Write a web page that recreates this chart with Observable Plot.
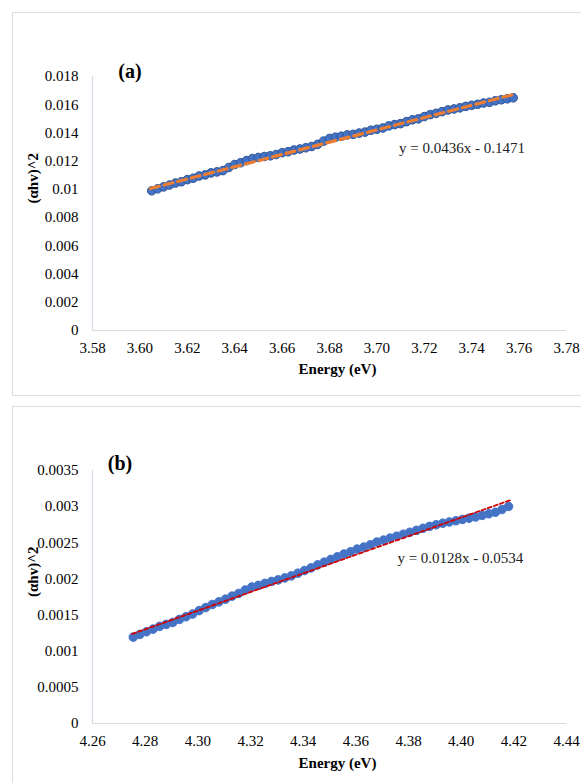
<!DOCTYPE html>
<html>
<head>
<meta charset="utf-8">
<script src="https://cdn.jsdelivr.net/npm/d3@7"></script>
<script src="https://cdn.jsdelivr.net/npm/@observablehq/plot@0.6"></script>
<style>
  html, body { margin: 0; padding: 0; background: #fff; overflow: hidden; }
  #wrap { position: relative; width: 581px; height: 783px; overflow: hidden; }
  .frame { position: absolute; border: 1px solid #d9dde4; box-sizing: border-box; }
  .chart { position: absolute; left: 0; }
  .chart svg { display: block; }
  .chart svg, .chart svg text { font-family: 'Liberation Serif', 'Times New Roman', serif !important; }
</style>
</head>
<body>
<div id="wrap">
  <div class="frame" style="left:12px;top:12px;width:580px;height:384px;"></div>
  <div class="frame" style="left:12px;top:406px;width:580px;height:400px;"></div>
  <div class="chart" id="a" style="top:0px;"></div>
  <div class="chart" id="b" style="top:395px;"></div>
</div>
<script>
// ---------- Panel (a) ----------
const energyA = [3.6050,3.6075,3.6100,3.6125,3.6150,3.6175,3.6200,3.6225,3.6250,3.6275,3.6300,3.6325,3.6350,3.6375,3.6400,3.6425,3.6450,3.6475,3.6500,3.6525,3.6550,3.6575,3.6600,3.6625,3.6650,3.6675,3.6700,3.6725,3.6750,3.6775,3.6800,3.6825,3.6850,3.6875,3.6900,3.6925,3.6950,3.6975,3.7000,3.7025,3.7050,3.7075,3.7100,3.7125,3.7150,3.7175,3.7200,3.7225,3.7250,3.7275,3.7300,3.7325,3.7350,3.7375,3.7400,3.7425,3.7450,3.7475,3.7500,3.7525,3.7550,3.7575];
const alphaA = [0.00990,0.01004,0.01018,0.01031,0.01045,0.01054,0.01069,0.01079,0.01095,0.01103,0.01117,0.01124,0.01133,0.01155,0.01176,0.01189,0.01204,0.01219,0.01226,0.01233,0.01238,0.01247,0.01260,0.01267,0.01279,0.01286,0.01295,0.01304,0.01319,0.01342,0.01361,0.01370,0.01377,0.01386,0.01390,0.01399,0.01406,0.01419,0.01426,0.01435,0.01450,0.01459,0.01466,0.01480,0.01493,0.01500,0.01516,0.01530,0.01539,0.01551,0.01563,0.01570,0.01578,0.01588,0.01596,0.01603,0.01612,0.01617,0.01628,0.01635,0.01642,0.01649];
const trendEnergyA = [3.6045, 3.7570];
const trendAlphaA = [0.01006, 0.01670];
const xTicksA = [3.58,3.60,3.62,3.64,3.66,3.68,3.70,3.72,3.74,3.76,3.78];
const yTicksA = [0,0.002,0.004,0.006,0.008,0.01,0.012,0.014,0.016,0.018];
const equationA = "y = 0.0436x - 0.1471";
const equationPosA = [3.7359, 0.0129];

// ---------- Panel (b) ----------
const energyB = [4.2755,4.2780,4.2805,4.2830,4.2855,4.2880,4.2905,4.2930,4.2955,4.2980,4.3005,4.3030,4.3055,4.3080,4.3105,4.3130,4.3155,4.3180,4.3205,4.3230,4.3255,4.3280,4.3305,4.3330,4.3355,4.3380,4.3405,4.3430,4.3455,4.3480,4.3505,4.3530,4.3555,4.3580,4.3605,4.3630,4.3655,4.3680,4.3705,4.3730,4.3755,4.3780,4.3805,4.3830,4.3855,4.3880,4.3905,4.3930,4.3955,4.3980,4.4005,4.4030,4.4055,4.4080,4.4105,4.4130,4.4155,4.4180];
const alphaB = [0.001195,0.001232,0.001269,0.001306,0.001344,0.001371,0.001398,0.001440,0.001477,0.001514,0.001562,0.001604,0.001646,0.001683,0.001720,0.001762,0.001799,0.001847,0.001889,0.001911,0.001938,0.001965,0.001987,0.002014,0.002042,0.002079,0.002116,0.002153,0.002195,0.002232,0.002270,0.002307,0.002344,0.002376,0.002413,0.002440,0.002472,0.002510,0.002537,0.002564,0.002591,0.002618,0.002645,0.002672,0.002700,0.002727,0.002749,0.002771,0.002788,0.002805,0.002823,0.002840,0.002857,0.002879,0.002901,0.002923,0.002960,0.003003];
const trendEnergyB = [4.2751, 4.4187];
const trendAlphaB = [0.00124, 0.00309];
const xTicksB = [4.26,4.28,4.30,4.32,4.34,4.36,4.38,4.40,4.42,4.44];
const yTicksB = [0,0.0005,0.001,0.0015,0.002,0.0025,0.003,0.0035];
const equationB = "y = 0.0128x - 0.0534";
const equationPosB = [4.3997, 0.002283];

const xLabel = "Energy (eV)";
const yLabel = "(αhv)^2";
const FONT = "'Liberation Serif', 'Times New Roman', serif";

function panel(o) {
  const pts = o.energy.map((e, i) => ({e, a: o.alpha[i]}));
  const trend = o.trendE.map((e, i) => ({e, a: o.trendA[i]}));
  return Plot.plot({
    width: 581,
    height: o.height,
    marginLeft: 92,
    marginRight: 15,
    marginTop: o.mTop,
    marginBottom: o.mBottom,
    style: {fontFamily: FONT, fontSize: "15px", color: "#000", background: "transparent", overflow: "visible"},
    x: {domain: [o.xTicks[0], o.xTicks[o.xTicks.length - 1]]},
    y: {domain: [o.yTicks[0], o.yTicks[o.yTicks.length - 1]]},
    marks: [
      Plot.ruleX([o.xTicks[0]], {stroke: "#d6dbe3", strokeWidth: 1.2}),
      Plot.ruleY([0], {stroke: "#d6dbe3", strokeWidth: 1.2}),
      Plot.axisX({ticks: o.xTicks, tickSize: 0, tickPadding: 12, tickFormat: d3.format(".2f"), label: null, fontSize: 15, fontFamily: FONT}),
      Plot.axisY({ticks: o.yTicks, tickSize: 0, tickPadding: 14, tickFormat: d => String(d), label: null, fontSize: 15, fontFamily: FONT}),
      Plot.dot(pts, {x: "e", y: "a", r: o.r, fill: o.dotFill, stroke: o.dotStroke, strokeWidth: 1}),
      Plot.line(trend, {x: "e", y: "a", stroke: o.trendColor, strokeWidth: o.trendWidth, strokeDasharray: o.dash}),
      Plot.text([{e: o.eqPos[0], a: o.eqPos[1], t: o.eq}], {x: "e", y: "a", text: "t", fontSize: 15, fill: "#222", fontFamily: FONT}),
      Plot.text([o.tag], {text: d => d, frameAnchor: "top-left", dx: o.tagDx, dy: o.tagDy, fontSize: 20, fontWeight: "bold", textAnchor: "middle", fontFamily: FONT}),
      Plot.text([xLabel], {text: d => d, frameAnchor: "bottom", dx: 8, dy: o.xlDy, fontSize: 15, fontWeight: "bold", fontFamily: FONT}),
      Plot.text([yLabel], {text: d => d, frameAnchor: "left", dx: -59, dy: 0, rotate: -90, fontSize: 15, fontWeight: "bold", fontFamily: FONT})
    ]
  });
}

document.getElementById("a").append(panel({
  energy: energyA, alpha: alphaA, trendE: trendEnergyA, trendA: trendAlphaA,
  xTicks: xTicksA, yTicks: yTicksA, eq: equationA, eqPos: equationPosA,
  height: 395, mTop: 76, mBottom: 65,
  r: 4.3, dotFill: "#4472c4", dotStroke: "#2f5597",
  trendColor: "#ed7d31", trendWidth: 3.2, dash: "9,5",
  tag: "(a)", tagDx: 37.5, tagDy: -12.5, xlDy: 43
}));

document.getElementById("b").append(panel({
  energy: energyB, alpha: alphaB, trendE: trendEnergyB, trendA: trendAlphaB,
  xTicks: xTicksB, yTicks: yTicksB, eq: equationB, eqPos: equationPosB,
  height: 388, mTop: 75, mBottom: 60,
  r: 4.3, dotFill: "#4472c4", dotStroke: "#4a78cc",
  trendColor: "#d40000", trendWidth: 1.8, dash: "4,2.5",
  tag: "(b)", tagDx: 27.5, tagDy: -15, xlDy: 44
}));
</script>
</body>
</html>
